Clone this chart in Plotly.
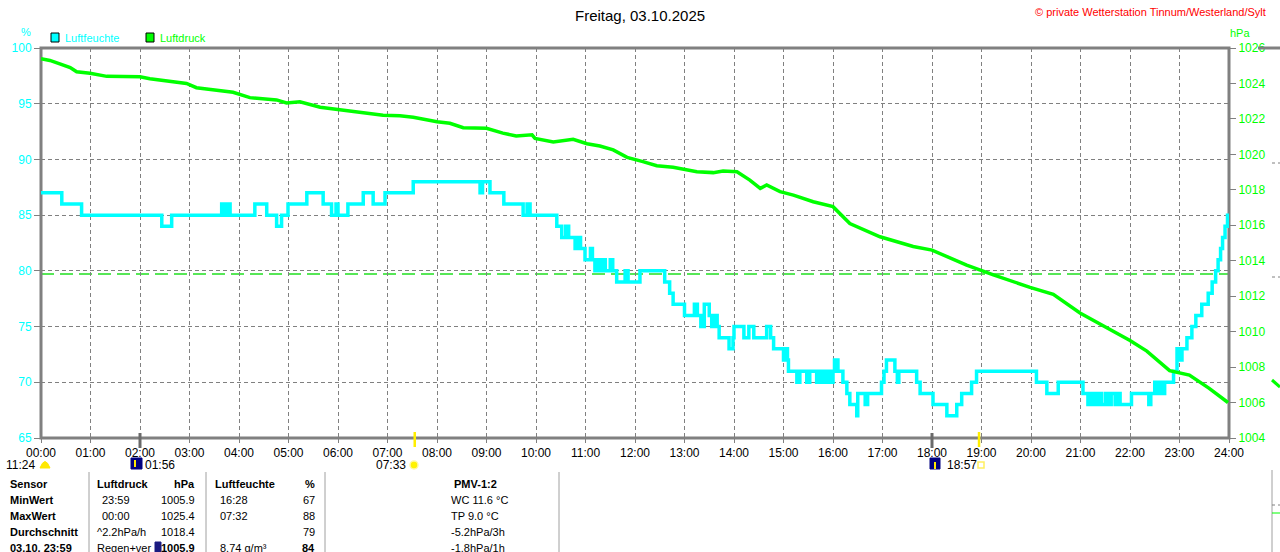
import plotly.graph_objects as go

# ---------------- data ----------------
hours = list(range(25))
hour_labels = [f"{h:02d}:00" for h in hours]

hum_t = [0.0, 0.42, 0.82, 2.44, 2.64, 3.65, 3.70, 3.76, 3.82, 4.32, 4.56, 4.76, 4.86, 4.99,
         5.37, 5.70, 5.87, 5.96, 6.00, 6.20, 6.51, 6.71, 6.95, 7.52, 8.87, 8.92, 9.07, 9.35,
         9.74, 9.82, 9.88, 10.42, 10.52, 10.60, 10.66, 10.79, 10.86, 10.90, 10.99, 11.10, 11.14,
         11.19, 11.25, 11.28, 11.35, 11.40, 11.50, 11.55, 11.63, 11.80, 11.86, 12.10, 12.60,
         12.70, 12.77, 13.00, 13.20, 13.26, 13.33, 13.40, 13.50, 13.55, 13.62, 13.66, 13.70,
         13.90, 13.98, 14.00, 14.20, 14.30, 14.40, 14.66, 14.74, 14.80, 15.00, 15.05, 15.08,
         15.10, 15.27, 15.33, 15.47, 15.53, 15.67, 15.74, 15.80, 15.87, 15.94, 16.00, 16.03,
         16.10, 16.20, 16.28, 16.34, 16.48, 16.50, 16.65, 16.70, 16.98, 17.03, 17.08, 17.25,
         17.30, 17.33, 17.69, 17.76, 18.02, 18.30, 18.50, 18.60, 18.80, 18.90, 20.11, 20.32,
         20.55, 21.05, 21.15, 21.22, 21.28, 21.35, 21.42, 21.50, 21.56, 21.62, 21.70, 21.75,
         21.80, 22.03, 22.38, 22.42, 22.50, 22.55, 22.60, 22.65, 22.70, 22.88, 22.95, 23.00,
         23.05, 23.15, 23.25, 23.33, 23.45, 23.58, 23.66, 23.73, 23.78, 23.83, 23.87, 23.92,
         23.97, 24.00]
hum_v = [87, 86, 85, 84, 85, 86, 85, 86, 85, 86, 85, 84, 85, 86,
         87, 86, 85, 86, 85, 86, 87, 86, 87, 88, 87, 88, 87, 86,
         85, 86, 85, 84, 83, 84, 83, 82, 83, 82, 81, 82, 81,
         80, 81, 80, 81, 80, 81, 80, 79, 80, 79, 80, 79,
         78, 77, 76, 77, 76, 75, 77, 76, 75, 76, 75, 74,
         73, 74, 75, 74, 75, 74, 75, 74, 73, 72, 73, 72,
         71, 70, 71, 70, 71, 70, 71, 70, 71, 70, 71, 72,
         71, 70, 69, 68, 67, 69, 68, 69, 70, 71, 72, 71,
         70, 71, 70, 69, 68, 67, 68, 69, 70, 71, 70, 69,
         70, 69, 68, 69, 68, 69, 68, 69, 68, 69, 68, 69,
         68, 69, 68, 69, 70, 69, 70, 69, 70, 71, 73, 72,
         73, 74, 75, 76, 77, 78, 79, 80, 81, 82, 83, 84,
         85, 84]

pres_t = [0.0, 0.18, 0.38, 0.59, 0.72, 0.99, 1.33, 2.0, 2.2, 2.6, 2.94, 3.14, 3.88, 4.22,
          4.76, 4.96, 5.23, 5.64, 6.24, 6.91, 7.25, 7.52, 8.0, 8.26, 8.53, 9.0, 9.33, 9.6,
          9.92, 9.98, 10.35, 10.75, 11.03, 11.29, 11.56, 11.84, 12.16, 12.44, 12.77, 13.25,
          13.58, 13.78, 14.06, 14.32, 14.53, 14.66, 14.93, 15.2, 15.6, 16.0, 16.34, 16.95,
          17.62, 18.0, 18.7, 19.24, 19.98, 20.45, 20.99, 21.4, 22.0, 22.34, 22.8, 23.2,
          23.6, 23.98]
pres_v = [1025.4, 1025.3, 1025.1, 1024.9, 1024.66, 1024.57, 1024.4, 1024.38, 1024.27, 1024.14,
          1024.0, 1023.76, 1023.5, 1023.2, 1023.07, 1022.9, 1022.97, 1022.66, 1022.46, 1022.2,
          1022.18, 1022.09, 1021.84, 1021.75, 1021.5, 1021.47, 1021.2, 1021.04, 1021.1, 1020.9,
          1020.7, 1020.85, 1020.6, 1020.47, 1020.25, 1019.83, 1019.59, 1019.36, 1019.27, 1019.02,
          1018.97, 1019.06, 1019.02, 1018.55, 1018.08, 1018.27, 1017.9, 1017.7, 1017.33, 1017.05,
          1016.1, 1015.35, 1014.8, 1014.6, 1013.75, 1013.2, 1012.5, 1012.1, 1011.05, 1010.4,
          1009.5, 1008.9, 1007.8, 1007.55, 1006.8, 1006.0]

hum_ticks = [65, 70, 75, 80, 85, 90, 95, 100]
pres_ticks = list(range(1004, 1027, 2))
norm_pressure = 1013.25

table_rows = [
    ["Sensor", "Luftdruck", "hPa", "Luftfeuchte", "%", "PMV-1:2"],
    ["MinWert", "23:59", "1005.9", "16:28", "67", "WC 11.6 °C"],
    ["MaxWert", "00:00", "1025.4", "07:32", "88", "TP 9.0 °C"],
    ["Durchschnitt", "^2.2hPa/h", "1018.4", "", "79", "-5.2hPa/3h"],
    ["03.10. 23:59", "Regen+ver", "1005.9", "8.74 g/m³", "84", "-1.8hPa/1h"],
]

# ---------------- layout helpers ----------------
W, H = 1280, 552
L, R, T, B = 41, 1229, 48, 438
def px(x): return (x - L) / (R - L)
def py(y): return (B - y) / (B - T)

CYAN = "#00FFFF"
GREEN = "#00FF00"
GRAY = "#808080"
FONT = "Liberation Sans, Arial, sans-serif"

fig = go.Figure()
fig.add_trace(go.Scatter(x=pres_t, y=pres_v, yaxis="y2", mode="lines",
                         line=dict(color=GREEN, width=3.5), name="Luftdruck", hoverinfo="skip"))
fig.add_trace(go.Scatter(x=hum_t, y=hum_v, mode="lines", line_shape="hv",
                         line=dict(color=CYAN, width=3.5), name="Luftfeuchte", hoverinfo="skip"))

shapes = []
ann = []
def text(x, y, s, color="black", size=11, anchor="left", bold=False):
    ann.append(dict(x=px(x), y=py(y), xref="paper", yref="paper", text=(f"<b>{s}</b>" if bold else s),
                    showarrow=False, xanchor=anchor, yanchor="middle",
                    font=dict(family=FONT, size=size, color=color)))

def line(x0, y0, x1, y1, color=GRAY, width=1, dash=None):
    d = dict(type="line", xref="paper", yref="paper", x0=px(x0), y0=py(y0), x1=px(x1), y1=py(y1),
             line=dict(color=color, width=width))
    if dash:
        d["line"]["dash"] = dash
    shapes.append(d)

def rect(x0, y0, x1, y1, fill, lc=None, lw=1):
    shapes.append(dict(type="rect", xref="paper", yref="paper", x0=px(x0), y0=py(y0), x1=px(x1), y1=py(y1),
                       fillcolor=fill, line=dict(color=lc or fill, width=lw)))

# norm pressure dashed line
shapes.append(dict(type="line", xref="paper", yref="y2", x0=0, x1=1, y0=norm_pressure, y1=norm_pressure,
                   line=dict(color="#20E020", width=1.5, dash="13px,6px"), layer="below"))
# frame
shapes.append(dict(type="rect", xref="paper", yref="paper", x0=0, y0=0, x1=1, y1=1,
                   line=dict(color=GRAY, width=3), layer="below"))

# moon / sun markers on the time axis
for hx in (2, 18):
    shapes.append(dict(type="line", xref="x", yref="paper", x0=hx, x1=hx, y0=py(448), y1=py(433),
                       line=dict(color="#6A6A6A", width=3)))
for hx in (7 + 33 / 60, 18 + 57 / 60):
    shapes.append(dict(type="line", xref="x", yref="paper", x0=hx, x1=hx, y0=py(447), y1=py(432),
                       line=dict(color="#FFEE00", width=2.5)))

# titles / texts
text(640, 15, "Freitag, 03.10.2025", size=15, anchor="center")
text(1268, 12, "© private Wetterstation Tinnum/Westerland/Sylt", color="#FF0000", size=11, anchor="right")
text(26, 32, "%", color=CYAN, size=11, anchor="center")
text(1240, 33, "hPa", color=GREEN, size=11, anchor="center")
rect(51, 33, 59, 42, CYAN, "black", 1)
text(63, 38, "Luftfeuchte", color=CYAN, size=11)
rect(146, 33, 154, 42, GREEN, "black", 1)
text(158, 38, "Luftdruck", color=GREEN, size=11)

# astro labels under the axis
AY = 465
text(37, AY, "11:24", size=12, anchor="right")
shapes.append(dict(type="path", xref="paper", yref="paper",
                   path=f"M {px(40)},{py(468)} Q {px(45)},{py(455)} {px(50)},{py(468)} Z",
                   fillcolor="#FFE800", line=dict(color="#FFE800", width=1)))
rect(131, 458, 142, 469, "#000080")
line(135, 460, 135, 467, color="#FFE800", width=2)
text(143, AY, "01:56", size=12)
text(408, AY, "07:33", size=12, anchor="right")
shapes.append(dict(type="circle", xref="paper", yref="paper", x0=px(410), x1=px(418), y0=py(469), y1=py(461),
                   fillcolor="#FFF200", line=dict(color="#FFF8A0", width=1.5)))
rect(930, 458, 940, 469, "#000080")
line(935, 462, 935, 469, color="#FFE800", width=2)
text(945, AY, "18:57", size=12)
rect(978, 462, 984, 468, "rgba(0,0,0,0)", "#FFF060", 1.5)

# table
for xs in (89, 206, 325, 559):
    line(xs, 472, xs, 552, color="#A0A0A0", width=1)
row_y = [484, 500, 516, 532, 548]
for i, row in enumerate(table_rows):
    yy = row_y[i]
    hdr = (i == 0)
    last = (i == len(table_rows) - 1)
    text(8, yy, row[0], bold=True)
    text(95 if (hdr or i >= 3) else 100, yy, row[1], bold=hdr)
    text(197, yy, row[2], anchor="right", bold=hdr or last)
    text(213 if hdr else 218, yy, row[3], bold=hdr)
    text(317, yy, row[4], anchor="right", bold=hdr or last)
    if hdr:
        text(475, yy, row[5], anchor="center", bold=True)
    else:
        text(449, yy, row[5])
rect(155, 542, 161, 552, "#1A1A80")

# partial next panel at right edge
line(1258, 48, 1280, 48, color=GRAY, width=3)
line(1272, 163, 1280, 163, color=GRAY, width=1, dash="3px,3px")
line(1272, 277, 1280, 277, color=GRAY, width=1, dash="3px,3px")
line(1272, 380, 1280, 387, color=GREEN, width=3)
line(1272, 470, 1272, 552, color="#A0A0A0", width=1)
line(1272, 505, 1280, 505, color=GRAY, width=1, dash="3px,3px")
line(1272, 513, 1280, 513, color=GREEN, width=1)

fig.update_layout(
    width=W, height=H,
    margin=dict(l=L, r=W - R, t=T, b=H - B),
    paper_bgcolor="white", plot_bgcolor="white",
    showlegend=False,
    font=dict(family=FONT),
    xaxis=dict(range=[0, 24], tickvals=hours, ticktext=hour_labels, showgrid=True,
               gridcolor=GRAY, griddash="4px,3px", gridwidth=1, zeroline=False,
               ticks="outside", ticklen=4, tickcolor=GRAY, showline=False,
               tickfont=dict(family=FONT, size=12, color="black")),
    yaxis=dict(range=[65, 100], tickvals=hum_ticks, showgrid=True, gridcolor=GRAY,
               griddash="4px,3px", gridwidth=1, zeroline=False, ticks="outside", ticklen=6,
               tickcolor=GRAY, tickfont=dict(family=FONT, size=12, color=CYAN)),
    yaxis2=dict(range=[1004, 1026], tickvals=pres_ticks, overlaying="y", side="right",
                showgrid=False, zeroline=False, ticks="outside", ticklen=6, tickcolor=GRAY,
                tickfont=dict(family=FONT, size=12, color=GREEN)),
    shapes=shapes, annotations=ann,
)

fig.write_html("out.html", config={"displayModeBar": False},
               post_script="document.body.style.margin='0';document.body.style.padding='0';"
                           "document.documentElement.style.overflow='hidden';")
